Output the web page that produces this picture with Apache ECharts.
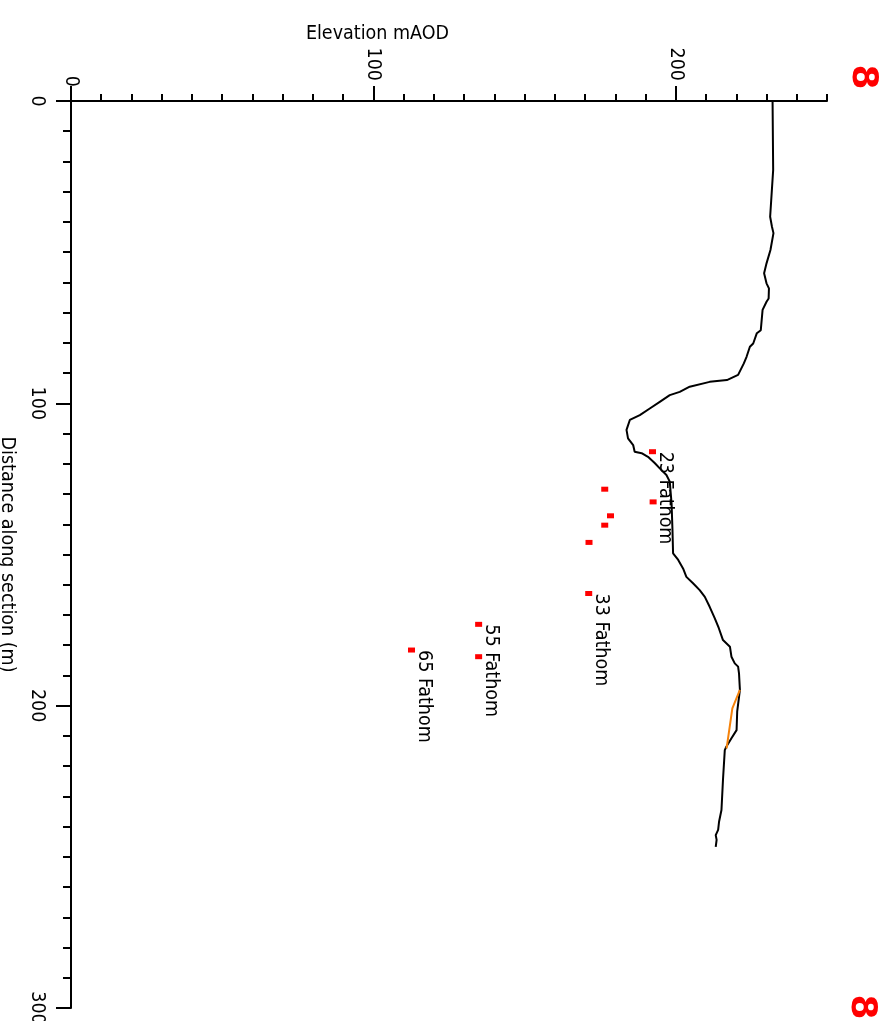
<!DOCTYPE html>
<html>
<head>
<meta charset="utf-8">
<script src="https://cdn.jsdelivr.net/npm/echarts@6/dist/echarts.min.js"></script>
<style>
html,body{margin:0;padding:0;background:#fff;}
#chart{width:890px;height:1021px;}
</style>
</head>
<body>
<div id="chart"></div>
<script>
// Ground profile: distance along section (m) and elevation (mAOD)
const profileDist = [0, 22.8, 38.3, 41.6, 43.7, 49.3, 53.7, 57.0, 60.3, 62.0, 65.3, 66.4, 69.1, 75.8, 76.8, 80.2, 81.3, 84.6, 86.8, 90.6, 92.3, 92.9, 94.5, 96.2, 97.3, 99.5, 101.7, 103.9, 105.5, 108.8, 111.6, 113.8, 116.0, 116.5, 117.7, 119.8, 121.5, 123.7, 125.9, 133.1, 141.9, 149.6, 151.8, 154.6, 157.4, 159.5, 161.8, 164.0, 167.3, 171.1, 174.3, 178.3, 180.5, 183.8, 186.0, 187.1, 189.3, 194.8, 202.0, 208.1, 210.8, 213.6, 214.7, 224.6, 234.5, 238.4, 241.1, 242.8, 244.4, 246.7];
const profileElev = [232.0, 232.2, 231.2, 231.8, 232.3, 231.3, 230.0, 229.2, 230.0, 230.8, 230.7, 230.0, 228.7, 228.1, 226.8, 225.6, 224.5, 223.4, 222.5, 220.6, 216.9, 211.2, 204.6, 201.3, 198.0, 194.7, 191.4, 188.1, 184.8, 183.7, 184.2, 185.9, 186.4, 188.7, 190.8, 193.1, 194.7, 196.9, 198.0, 198.6, 198.9, 199.1, 200.8, 202.4, 203.5, 205.7, 207.9, 209.6, 211.2, 212.9, 214.2, 215.6, 217.9, 218.4, 219.5, 220.6, 220.9, 221.2, 220.3, 220.1, 218.4, 216.7, 216.2, 215.6, 215.1, 214.3, 214.0, 213.2, 213.5, 213.2];

// Alternative (orange) segment
const altDist = [194.8, 200.9, 214.1];
const altElev = [221.2, 218.7, 216.8];

// Workings (red points) and their labels
const pointDist = [116.0, 132.6, 128.4, 137.2, 140.3, 146.0, 162.9, 173.1, 183.8, 181.6];
const pointElev = [192.3, 192.5, 176.5, 178.4, 176.5, 171.3, 171.2, 134.8, 134.8, 112.6];
const pointLabel = ['23 Fathom', '', '', '', '', '', '33 Fathom', '55 Fathom', '', '65 Fathom'];

// Axis ticks
const elevMajorTicks = [0, 100, 200];
const distMajorTicks = [0, 100, 200, 300];
const sectionMarks = ['8', '8'];

const FONT = 'DejaVu Sans Condensed';
const FS = 19.5;

const chart = echarts.init(document.getElementById('chart'), null, {renderer: 'canvas'});

const profileData = profileDist.map((d, i) => [profileElev[i], d]);
const altData = altDist.map((d, i) => [altElev[i], d]);
const pointData = pointDist.map((d, i) => {
  const item = {value: [pointElev[i], d]};
  if (pointLabel[i]) {
    item.label = {show: true, formatter: pointLabel[i]};
  }
  return item;
});

const option = {
  backgroundColor: '#ffffff',
  animation: false,
  textStyle: {fontFamily: FONT},
  grid: {left: 71, top: 101, width: 756, height: 907, containLabel: false, outerBoundsMode: 'none'},
  xAxis: [
    {
      type: 'value', position: 'top', min: 0, max: 250, interval: 10,
      name: 'Elevation mAOD', nameLocation: 'middle', nameGap: 57, nameMoveOverlap: false,
      nameTextStyle: {fontFamily: FONT, fontSize: FS, color: '#000', align: 'right'},
      axisLine: {show: true, lineStyle: {color: '#000', width: 2}},
      axisTick: {show: true, length: 7, lineStyle: {color: '#000', width: 2}},
      axisLabel: {
        show: true, customValues: elevMajorTicks, rotate: -90, margin: 14,
        fontFamily: FONT, fontSize: FS, color: '#000',
        formatter: v => v === 0 ? '0' : '{p|' + v + '}',
        rich: {p: {fontFamily: FONT, fontSize: FS, color: '#000', padding: [0, 6, 0, 0]}}
      },
      splitLine: {show: false}
    },
    {
      type: 'value', position: 'top', min: 0, max: 250,
      axisLine: {show: false},
      axisTick: {show: true, customValues: elevMajorTicks, length: 15, lineStyle: {color: '#000', width: 2}},
      axisLabel: {show: false},
      splitLine: {show: false}
    }
  ],
  yAxis: {
    type: 'value', inverse: true, min: 0, max: 300, interval: 100,
    name: 'Distance along section (m)', nameLocation: 'middle', nameGap: 54, nameRotate: -90, nameMoveOverlap: false,
    nameTextStyle: {fontFamily: FONT, fontSize: FS, color: '#000'},
    axisLine: {show: true, lineStyle: {color: '#000', width: 2}},
    axisTick: {show: true, length: 15, lineStyle: {color: '#000', width: 2}},
    minorTick: {show: true, splitNumber: 10, length: 8, lineStyle: {color: '#000', width: 2}},
    axisLabel: {show: true, customValues: distMajorTicks, rotate: -90, margin: 24, fontFamily: FONT, fontSize: FS, color: '#000'},
    splitLine: {show: false},
    minorSplitLine: {show: false}
  },
  series: [
    {
      type: 'line', xAxisIndex: 0, data: profileData, showSymbol: false, symbol: 'none',
      lineStyle: {color: '#000', width: 2}, silent: true, z: 3
    },
    {
      type: 'line', xAxisIndex: 0, data: altData, showSymbol: false, symbol: 'none',
      lineStyle: {color: '#f5820a', width: 2}, silent: true, z: 4
    },
    {
      type: 'scatter', xAxisIndex: 0, data: pointData, symbol: 'rect', symbolSize: [7, 5],
      itemStyle: {color: '#ff0000', opacity: 1}, z: 5,
      label: {
        show: false, position: 'right', distance: 9, rotate: -90,
        align: 'left', verticalAlign: 'middle',
        fontFamily: FONT, fontSize: FS, color: '#000'
      }
    }
  ],
  graphic: [
    {type: 'text', x: 862, y: 77, rotation: -Math.PI / 2,
     style: {text: sectionMarks[0], fill: '#ff0000', font: 'bold 36px "DejaVu Sans"', align: 'center', verticalAlign: 'middle'}},
    {type: 'text', x: 861, y: 1007, rotation: -Math.PI / 2,
     style: {text: sectionMarks[1], fill: '#ff0000', font: 'bold 36px "DejaVu Sans"', align: 'center', verticalAlign: 'middle'}}
  ]
};
chart.setOption(option);
</script>
</body>
</html>
